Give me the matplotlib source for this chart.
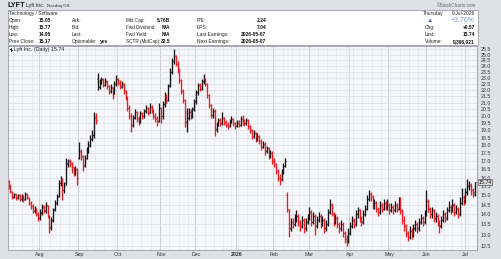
import numpy as np
import pandas as pd
import matplotlib
matplotlib.use("Agg")
import matplotlib.pyplot as plt
from matplotlib.collections import LineCollection
from matplotlib.patches import Rectangle
from matplotlib.lines import Line2D
import matplotlib.transforms as mtransforms

plt.rcParams["font.family"] = ["Liberation Sans", "DejaVu Sans"]

# --- trading days, 9-Jul-2025 .. 9-Jul-2026 ---
holidays = ["2025-09-01", "2025-11-27", "2025-12-25", "2026-01-01", "2026-01-19",
            "2026-02-16", "2026-04-03", "2026-05-25", "2026-06-19", "2026-07-03"]
dates = pd.bdate_range("2025-07-09", "2026-07-09")
dates = dates[~dates.isin(pd.to_datetime(holidays))]

# --- daily OHLC ---
opens = [
    # Jul
    15.80, 15.55, 15.20, 14.90, 15.05, 14.85, 15.00, 14.80, 14.95, 14.80, 15.05, 14.85, 14.60, 14.45, 14.15, 14.30, 14.00,
    # Aug
    13.80, 14.05, 14.45, 14.15, 14.45, 13.85, 13.35, 13.70, 14.25, 14.60, 14.95, 15.70, 15.85, 15.30, 15.70, 16.85, 17.00, 16.85, 16.60, 16.30, 16.45,
    # Sep
    17.20, 17.55, 17.30, 16.75, 17.20, 17.60, 18.00, 18.40, 18.70, 20.00, 22.90, 22.20, 22.60, 22.85, 22.40, 22.65, 22.30, 21.90, 22.15, 21.75, 22.50,
    # Oct
    22.90, 22.60, 22.25, 22.50, 21.90, 21.35, 20.60, 20.00, 19.40, 19.95, 20.30, 19.85, 19.60, 20.20, 20.00, 20.35, 20.60, 20.25, 20.70, 20.40, 20.00, 19.85, 19.65,
    # Nov
    20.60, 20.00, 20.90, 21.50, 21.20, 22.40, 23.50, 24.40, 24.90, 24.20, 23.60, 22.80, 21.90, 21.20, 19.60, 19.90, 20.30, 20.00, 20.50,
    # Dec
    21.10, 21.80, 22.40, 22.10, 22.70, 22.90, 22.50, 21.60, 20.80, 20.10, 20.40, 19.10, 19.40, 19.70, 19.50, 19.90, 19.60, 19.40, 19.30, 19.60, 19.80, 19.50,
    # Jan
    19.30, 19.50, 19.40, 19.80, 19.60, 19.50, 19.70, 19.30, 19.00, 18.60, 18.80, 18.40, 18.60, 18.30, 17.90, 18.10, 17.60, 17.80, 17.30, 17.50,
    # Feb
    17.00, 16.80, 16.40, 16.00, 15.90, 16.30, 16.70, 15.00, 14.20, 13.30, 13.60, 13.50, 13.80, 13.90, 13.60, 13.40, 13.70, 13.30, 13.60,
    # Mar
    13.80, 14.10, 13.60, 13.90, 13.40, 13.70, 13.90, 13.50, 13.70, 13.30, 13.50, 14.10, 14.50, 14.00, 13.60, 13.80, 13.50, 13.30, 13.50, 13.10, 12.80, 12.70,
    # Apr
    13.10, 13.40, 13.70, 13.50, 14.00, 14.20, 13.80, 13.60, 14.00, 14.30, 14.80, 15.10, 14.90, 14.50, 14.60, 14.30, 14.10, 14.50, 14.30, 14.60, 14.40,
    # May
    14.50, 14.20, 14.40, 14.20, 14.50, 14.30, 14.60, 14.20, 13.70, 13.40, 13.10, 12.90, 13.20, 13.00, 13.30, 13.50, 13.30, 13.60, 13.80, 13.60,
    # Jun
    14.00, 14.70, 14.30, 14.00, 14.20, 13.80, 13.90, 13.60, 13.40, 13.70, 14.00, 13.80, 14.20, 14.40, 14.20, 14.50, 14.10, 14.30, 14.00, 14.60, 14.90,
    # Jul
    14.70, 15.20, 15.50, 15.60, 15.30, 15.05,
]
highs = [
    15.85, 15.60, 15.25, 15.15, 15.10, 15.10, 15.05, 15.05, 15.00, 15.20, 15.15, 14.90, 14.70, 14.55, 14.45, 14.35, 14.10,
    14.25, 14.55, 14.50, 14.65, 14.50, 13.95, 13.85, 14.35, 14.75, 15.05, 15.85, 16.10, 15.95, 15.75, 17.20, 17.15, 17.10, 16.95, 16.65, 16.70, 16.55,
    18.20, 17.75, 17.35, 17.40, 17.85, 18.25, 18.65, 19.00, 20.30, 20.20, 23.40, 22.90, 23.10, 22.95, 22.95, 22.80, 22.40, 22.45, 22.25, 22.70, 23.20,
    23.00, 22.80, 22.70, 22.55, 22.00, 21.50, 20.80, 20.20, 20.10, 20.50, 20.40, 20.00, 20.35, 20.30, 20.55, 20.80, 20.70, 20.95, 20.80, 20.50, 20.20, 20.00, 21.00,
    20.70, 21.10, 21.80, 21.70, 22.50, 23.80, 24.70, 25.50, 25.00, 24.40, 23.80, 22.90, 22.10, 21.30, 20.60, 20.60, 20.50, 20.70, 21.30,
    22.00, 22.60, 22.60, 22.90, 23.30, 23.00, 22.60, 21.70, 20.90, 20.60, 20.50, 19.60, 19.90, 19.90, 20.30, 19.95, 19.70, 19.55, 19.80, 20.00, 19.90, 19.60,
    19.70, 19.70, 20.00, 20.10, 19.80, 19.90, 19.80, 19.40, 19.10, 19.00, 18.90, 18.80, 18.70, 18.40, 18.30, 18.20, 17.95, 17.90, 17.70, 17.60,
    17.20, 16.90, 16.50, 16.20, 16.50, 16.90, 17.20, 15.20, 14.30, 13.80, 13.80, 14.00, 14.20, 14.00, 13.70, 13.90, 13.80, 13.80, 14.00,
    14.40, 14.20, 14.10, 14.00, 13.90, 14.10, 14.00, 13.90, 13.80, 13.70, 14.30, 14.80, 14.60, 14.10, 14.00, 13.90, 13.60, 13.70, 13.60, 13.20, 13.00, 13.30,
    13.60, 13.90, 13.80, 14.20, 14.40, 14.30, 13.90, 14.20, 14.50, 15.00, 15.30, 15.20, 15.00, 14.80, 14.70, 14.40, 14.70, 14.60, 14.80, 14.70, 14.80,
    14.60, 14.60, 14.50, 14.70, 14.60, 14.90, 14.90, 14.30, 13.90, 13.50, 13.20, 13.40, 13.30, 13.50, 13.70, 13.60, 13.80, 14.00, 13.90, 14.20,
    15.30, 14.80, 14.40, 14.40, 14.30, 14.10, 14.00, 13.70, 13.90, 14.20, 14.10, 14.40, 14.70, 14.50, 14.80, 14.60, 14.50, 14.40, 14.90, 15.40, 15.00,
    15.40, 15.90, 15.80, 15.70, 15.40, 15.77,
]
lows = [
    15.35, 15.15, 14.80, 14.85, 14.75, 14.80, 14.70, 14.70, 14.65, 14.75, 14.80, 14.50, 14.30, 14.05, 14.05, 13.90, 13.65,
    13.70, 13.95, 14.05, 14.05, 13.80, 13.10, 13.25, 13.60, 14.15, 14.50, 14.90, 15.50, 14.75, 15.15, 15.60, 16.65, 16.60, 16.30, 16.10, 16.15, 15.60,
    17.10, 17.05, 16.40, 16.65, 17.10, 17.50, 17.85, 18.25, 18.50, 19.45, 22.00, 22.05, 22.45, 22.20, 22.30, 22.10, 21.70, 21.75, 21.30, 21.65, 22.35,
    22.40, 22.10, 22.15, 21.70, 21.20, 20.40, 19.80, 18.90, 19.20, 19.80, 19.60, 19.40, 19.50, 19.80, 19.90, 20.20, 20.10, 20.20, 20.20, 19.80, 19.60, 19.30, 19.55,
    19.50, 19.80, 20.70, 21.00, 21.10, 22.20, 23.30, 24.20, 24.00, 23.40, 22.60, 21.70, 21.00, 19.20, 18.90, 19.70, 19.80, 19.90, 20.40,
    20.90, 21.60, 21.90, 22.00, 22.50, 22.30, 21.40, 20.60, 19.90, 19.90, 18.60, 18.90, 19.30, 19.30, 19.40, 19.40, 19.20, 19.10, 19.20, 19.50, 19.30, 19.10,
    19.20, 19.20, 19.30, 19.40, 19.30, 19.40, 19.10, 18.80, 18.40, 18.50, 18.20, 18.30, 18.10, 17.70, 17.80, 17.40, 17.50, 17.10, 17.20, 16.80,
    16.60, 16.20, 15.80, 15.60, 15.80, 16.20, 16.60, 14.10, 12.90, 13.20, 13.30, 13.40, 13.60, 13.40, 13.20, 13.30, 13.10, 13.20, 13.50,
    13.70, 13.40, 13.50, 13.00, 13.30, 13.60, 13.30, 13.40, 13.10, 13.20, 13.40, 14.00, 13.90, 13.40, 13.50, 13.30, 13.10, 13.20, 12.90, 12.60, 12.50, 12.60,
    13.00, 13.30, 13.30, 13.40, 13.80, 13.60, 13.40, 13.50, 13.90, 14.20, 14.70, 14.70, 14.30, 14.30, 14.10, 13.90, 14.00, 14.10, 14.20, 14.20, 14.20,
    14.00, 14.10, 14.00, 14.10, 14.10, 14.20, 14.00, 13.50, 13.20, 12.90, 12.70, 12.80, 12.80, 12.90, 13.20, 13.10, 13.20, 13.50, 13.40, 13.50,
    13.90, 14.10, 13.80, 13.80, 13.60, 13.60, 13.40, 13.10, 13.30, 13.60, 13.60, 13.70, 14.10, 14.00, 14.10, 13.90, 14.00, 13.80, 13.90, 14.50, 14.50,
    14.60, 15.00, 15.30, 15.00, 14.90, 14.98,
]
closes = [
    15.60, 15.25, 14.95, 15.05, 14.85, 15.00, 14.80, 14.95, 14.75, 15.10, 14.90, 14.60, 14.45, 14.20, 14.30, 14.00, 13.80,
    14.10, 14.40, 14.20, 14.50, 13.90, 13.30, 13.70, 14.20, 14.60, 14.90, 15.70, 15.90, 15.30, 15.60, 16.80, 17.00, 16.80, 16.60, 16.30, 16.50, 16.00,
    17.60, 17.30, 16.70, 17.20, 17.60, 18.00, 18.40, 18.70, 19.90, 19.70, 22.20, 22.60, 22.90, 22.40, 22.70, 22.30, 21.90, 22.20, 21.70, 22.50, 22.90,
    22.60, 22.30, 22.50, 21.90, 21.40, 20.60, 20.00, 19.40, 19.90, 20.30, 19.80, 19.60, 20.20, 20.00, 20.40, 20.60, 20.30, 20.70, 20.40, 20.00, 19.80, 19.60, 20.60,
    20.00, 20.90, 21.50, 21.20, 22.30, 23.50, 24.40, 24.90, 24.20, 23.60, 22.80, 21.90, 21.20, 19.60, 19.90, 20.30, 20.00, 20.50, 21.10,
    21.80, 22.40, 22.10, 22.70, 22.90, 22.50, 21.60, 20.80, 20.10, 20.40, 19.10, 19.40, 19.70, 19.50, 19.90, 19.60, 19.40, 19.30, 19.60, 19.80, 19.50, 19.30,
    19.50, 19.40, 19.80, 19.60, 19.50, 19.70, 19.30, 19.00, 18.60, 18.80, 18.40, 18.60, 18.30, 17.90, 18.10, 17.60, 17.80, 17.30, 17.50, 17.00,
    16.80, 16.40, 16.00, 15.90, 16.30, 16.70, 17.00, 14.30, 13.30, 13.60, 13.50, 13.80, 13.90, 13.60, 13.40, 13.70, 13.30, 13.60, 13.80,
    14.10, 13.60, 13.90, 13.40, 13.70, 13.90, 13.50, 13.70, 13.30, 13.50, 14.10, 14.50, 14.00, 13.60, 13.80, 13.50, 13.30, 13.50, 13.10, 12.80, 12.70, 13.10,
    13.40, 13.70, 13.50, 14.00, 14.20, 13.80, 13.60, 14.00, 14.30, 14.80, 15.10, 14.90, 14.50, 14.60, 14.30, 14.10, 14.50, 14.30, 14.60, 14.40, 14.50,
    14.20, 14.40, 14.20, 14.50, 14.30, 14.60, 14.20, 13.70, 13.40, 13.10, 12.90, 13.20, 13.00, 13.30, 13.50, 13.30, 13.60, 13.80, 13.60, 14.00,
    14.70, 14.30, 14.00, 14.20, 13.80, 13.90, 13.60, 13.40, 13.70, 14.00, 13.80, 14.20, 14.40, 14.20, 14.50, 14.10, 14.30, 14.00, 14.60, 14.90, 14.70,
    15.20, 15.50, 15.60, 15.30, 15.17, 15.74,
]
price_ticks = [12.5, 13.0, 13.5, 14.0, 14.5, 15.0, 15.5, 16.0, 16.5, 17.0, 17.5, 18.0, 18.5, 19.0,
               19.5, 20.0, 20.5, 21.0, 21.5, 22.0, 22.5, 23.0, 23.5, 24.0, 24.5, 25.0, 25.5]

n = len(closes)
assert len(opens) == n and len(highs) == n and len(lows) == n and len(dates) == n

W, H = 501, 259
fig = plt.figure(figsize=(W / 100, H / 100), dpi=100)
fig.patch.set_facecolor("#dfe1e7")

def fx(x):
    return x / W

def fy(y):
    return 1 - y / H

# --- header ---
fig.text(fx(8), fy(5.5), "LYFT", fontsize=5.2, fontweight="bold", va="center", color="#111")
fig.text(fx(26.5), fy(5.8), "Lyft Inc.", fontsize=3.8, va="center", color="#222")
fig.text(fx(47), fy(5.8), "Nasdaq GS", fontsize=3.2, va="center", color="#333")
fig.text(fx(476), fy(5.5), "\u00a9StockCharts.com", fontsize=3.3, va="center", ha="right", color="#666")

fig.patches.append(Rectangle((fx(7.5), fy(45)), fx(470), fy(10) - fy(45), transform=fig.transFigure,
                             facecolor="white", edgecolor="#9a9ca3", lw=0.6))

rows = [20.5, 27.6, 34.7, 41.8]
fs = 3.5
fig.text(fx(9), fy(13.4), "Technology / Software", fontsize=fs, va="center", color="#222")

labels1 = ["Open:", "High:", "Low:", "Prev Close:"]
values1 = ["15.05", "15.77", "14.98", "15.17"]
labels2 = ["Ask:", "Bid:", "Last:", "Optionable:"]
labels3 = ["Mkt Cap:", "Fwd Dividend:", "Fwd Yield:", "SCTR (MidCap):"]
values3 = ["5.76B", "N/A", "N/A", "32.5"]
labels4 = ["P/E:", "EPS:", "Last Earnings:", "Next Earnings:"]
values4 = ["2.24", "7.04", "2026-05-07", "2026-08-07"]

for y, l1, v1, l2, l3, v3, l4, v4 in zip(rows, labels1, values1, labels2, labels3, values3, labels4, values4):
    fig.text(fx(9), fy(y), l1, fontsize=fs, va="center", color="#222")
    fig.text(fx(39), fy(y), v1, fontsize=fs, va="center", fontweight="bold", color="#111")
    fig.text(fx(72), fy(y), l2, fontsize=fs, va="center", color="#222")
    fig.text(fx(126), fy(y), l3, fontsize=3.3, va="center", color="#222")
    fig.text(fx(170), fy(y), v3, fontsize=fs, va="center", ha="right", fontweight="bold", color="#111")
    fig.text(fx(197), fy(y), l4, fontsize=fs, va="center", color="#222")
    fig.text(fx(266), fy(y), v4, fontsize=fs, va="center", ha="right", fontweight="bold", color="#111")
fig.text(fx(100), fy(rows[3]), "yes", fontsize=fs, va="center", fontweight="bold", color="#111")

fig.text(fx(423), fy(13.4), "Thursday", fontsize=fs, va="center", color="#222")
fig.text(fx(475), fy(13.4), "9-Jul-2026", fontsize=fs, va="center", ha="right", color="#222")
fig.text(fx(427), fy(20.5), "\u25b2", fontsize=4.6, va="center", color="#4f6d96")
fig.text(fx(475), fy(20.3), "+3.76%", fontsize=5.0, va="center", ha="right", color="#7f9cc4")
fig.text(fx(425), fy(27.6), "Chg:", fontsize=fs, va="center", color="#222")
fig.text(fx(475), fy(27.6), "+0.57", fontsize=fs, va="center", ha="right", fontweight="bold", color="#111")
fig.text(fx(425), fy(34.7), "Last:", fontsize=fs, va="center", color="#222")
fig.text(fx(475), fy(34.7), "15.74", fontsize=fs, va="center", ha="right", fontweight="bold", color="#111")
fig.text(fx(425), fy(41.8), "Volume:", fontsize=fs, va="center", color="#222")
fig.text(fx(475), fy(41.8), "9,396,021", fontsize=fs, va="center", ha="right", fontweight="bold", color="#111")

# --- price panel ---
ax = fig.add_axes([fx(8), fy(250), fx(469), fy(46) - fy(250)])
ax.set_facecolor("#f6f7fa")
ax.set_yscale("log")
ax.set_ylim(12.30, 25.81)
ax.set_xlim(-0.3, n + 0.2)

x = np.arange(n)
# weekly and monthly grid
wk = [i for i in range(1, n) if dates[i].weekday() < dates[i - 1].weekday()]
mo = [i for i in range(1, n) if dates[i].month != dates[i - 1].month]
for i in wk:
    ax.axvline(i - 0.5, color="#e2e3e9", lw=0.5, zorder=0)
for i in mo:
    ax.axvline(i - 0.5, color="#c9cad1", lw=0.6, zorder=0)
for p in price_ticks:
    ax.axhline(p, color="#dcdde3", lw=0.5, zorder=0)

o = np.array(opens)
h = np.array(highs)
l = np.array(lows)
c = np.array(closes)
up = np.r_[c[0] >= o[0], c[1:] >= c[:-1]]
cols = np.where(up, "#151515", "#ec1c24")
segs, seg_cols = [], []
for i in x:
    segs += [[(i, l[i]), (i, h[i])], [(i - 0.55, o[i]), (i, o[i])], [(i, c[i]), (i + 0.55, c[i])]]
    seg_cols += [cols[i]] * 3
ax.add_collection(LineCollection(segs, colors=seg_cols, linewidths=0.95, zorder=3))

ax.yaxis.tick_right()
ax.set_yticks(price_ticks)
ax.set_yticklabels([f"{p:.1f}" for p in price_ticks], fontsize=3.8, color="#333")
ax.yaxis.set_minor_locator(matplotlib.ticker.NullLocator())
ax.tick_params(axis="y", length=0, pad=2.5)

ax.set_xticks(mo)
ax.set_xticklabels(["2026" if dates[i].month == 1 else dates[i].strftime("%b") for i in mo],
                   fontsize=3.8, color="#333")
for t, i in zip(ax.get_xticklabels(), mo):
    if dates[i].month == 1:
        t.set_fontweight("bold")
ax.tick_params(axis="x", length=0, pad=1.5)

for s in ax.spines.values():
    s.set_color("#9a9ca3")
    s.set_linewidth(0.6)

# legend line at top-left
ax.add_line(Line2D([fx(11), fx(11)], [fy(47.8), fy(51.5)], transform=fig.transFigure, color="#222", lw=0.6))
ax.add_line(Line2D([fx(10), fx(11)], [fy(48.6), fy(48.6)], transform=fig.transFigure, color="#222", lw=0.6))
ax.add_line(Line2D([fx(11), fx(12)], [fy(50.5), fy(50.5)], transform=fig.transFigure, color="#222", lw=0.6))
fig.text(fx(14), fy(49.6), "Lyft Inc. (Daily) 15.74", fontsize=3.8, va="center", color="#222")

# last price tag
trans = mtransforms.blended_transform_factory(ax.transAxes, ax.transData)
ax.text(1.003, closes[-1], f"{closes[-1]:.2f}", transform=trans, fontsize=3.8, va="center", ha="left",
        color="#111", clip_on=False,
        bbox=dict(boxstyle="square,pad=0.15", facecolor="#d9d9d9", edgecolor="#555", lw=0.5))

fig.savefig("out.png", dpi=100, facecolor=fig.get_facecolor())
